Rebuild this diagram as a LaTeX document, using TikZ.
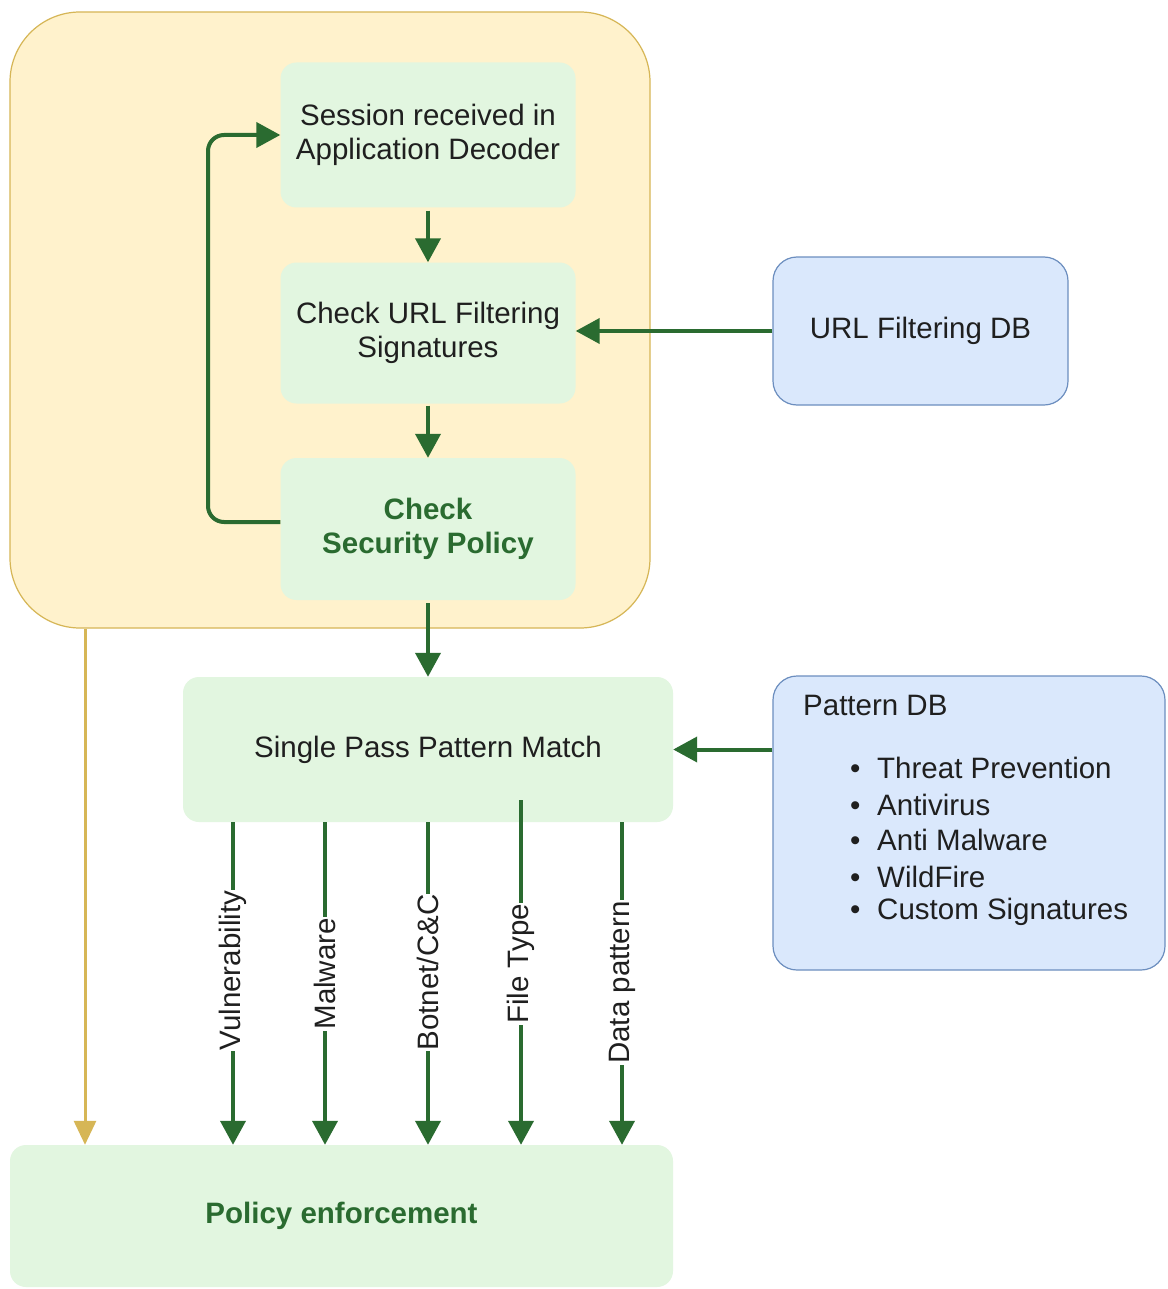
\documentclass[tikz,border=0pt]{standalone}
\usepackage{fontspec}
\setmainfont{Liberation Sans}
\usetikzlibrary{arrows.meta,calc}
\definecolor{gfill}{HTML}{E2F6E0}
\definecolor{ofill}{HTML}{FFF2CC}
\definecolor{oline}{HTML}{D6B656}
\definecolor{bfill}{HTML}{DAE8FC}
\definecolor{bline}{HTML}{6C8EBF}
\definecolor{garr}{HTML}{2A6B30}
\definecolor{gtext}{HTML}{2A6B30}
\begin{document}
\begin{tikzpicture}[x=1pt,y=-1pt,
  every node/.style={font=\fontsize{29.5}{34.5}\selectfont, text=black!88},
  obox/.style={draw=oline, line width=1.2pt, fill=ofill, rounded corners=70pt, inner sep=0pt},
  gbox/.style={fill=gfill, rounded corners=16pt, align=center, inner sep=0pt, minimum width=295pt},
  bbox/.style={draw=bline, line width=1.2pt, fill=bfill, rounded corners=24pt, align=center, inner sep=0pt},
  garrow/.style={draw=garr, line width=4pt, -{Triangle[length=24pt,width=25pt]}},
  oarrow/.style={draw=oline, line width=3pt, -{Triangle[length=24pt,width=22pt]}},
  lbl/.style={fill=white, rotate=90, inner sep=1pt},
  bold/.style={font=\fontsize{29.5}{34.5}\selectfont\bfseries, text=gtext}
]
\useasboundingbox (0,0) rectangle (1167,1289);
\fill[white] (0,0) rectangle (1167,1289);

\node[obox, minimum width=640pt, minimum height=616pt] (outer) at (330,320) {};

\node[gbox, minimum height=145pt] (s1) at (428,135) {Session received in\\Application Decoder};
\node[gbox, minimum height=141pt] (s2) at (428,333) {Check URL Filtering\\Signatures};
\node[gbox, minimum height=142pt, bold] (s3) at (428,529) {Check\\Security Policy};

\node[bbox, minimum width=295pt, minimum height=148pt] (url) at (920.5,331) {URL Filtering DB};

\node[gbox, minimum width=490pt, minimum height=145pt] (sppm) at (428,749.5) {Single Pass Pattern Match};

\node[bbox, minimum width=392pt, minimum height=294pt] (pdb) at (969,823) {};
\node[anchor=west, inner sep=0pt] (pdbt) at (803,705) {Pattern DB};
\foreach \t/\yy [count=\i] in {Threat Prevention/768, Antivirus/805, Anti Malware/840, WildFire/877, Custom Signatures/912}{
  \node[anchor=west, inner sep=0pt] (pdbi\i) at (850,\yy) {\makebox[27pt][l]{•}\t};
}

\node[gbox, minimum width=663pt, minimum height=142pt, bold] (pe) at (341.5,1216) {Policy enforcement};

% connectors
\draw[garrow] (s1.south) ++(0,3) -- (s2.north);
\draw[garrow] (s2.south) ++(0,2) -- (s3.north);
\draw[garrow, rounded corners=16pt] (s3.west) ++(0,-7) -| (208,300) |- (s1.west);
\draw[garrow] (url.west) -- (url.west -| s2.east);
\draw[garrow] (s3.south) ++(0,3) -- (sppm.north);
\draw[garrow] (pdb.west |- sppm.east) -- (sppm.east);
\draw[oarrow] (85,0 |- outer.south) -- (85,0 |- pe.north);

\draw[garrow] (233,0 |- sppm.south) -- (233,0 |- pe.north) node[lbl, pos=0.46] {Vulnerability};
\draw[garrow] (325,0 |- sppm.south) -- (325,0 |- pe.north) node[lbl, pos=0.47] {Malware};
\draw[garrow] (428,0 |- sppm.south) -- (428,0 |- pe.north) node[lbl, pos=0.466] {Botnet/C\&C};
\draw[garrow] ($(521,0 |- sppm.south)+(0,-22)$) -- (521,0 |- pe.north) node[lbl, pos=0.475] {File Type};
\draw[garrow] (622,0 |- sppm.south) -- (622,0 |- pe.north) node[lbl, pos=0.497] {Data pattern};
\end{tikzpicture}
\end{document}
